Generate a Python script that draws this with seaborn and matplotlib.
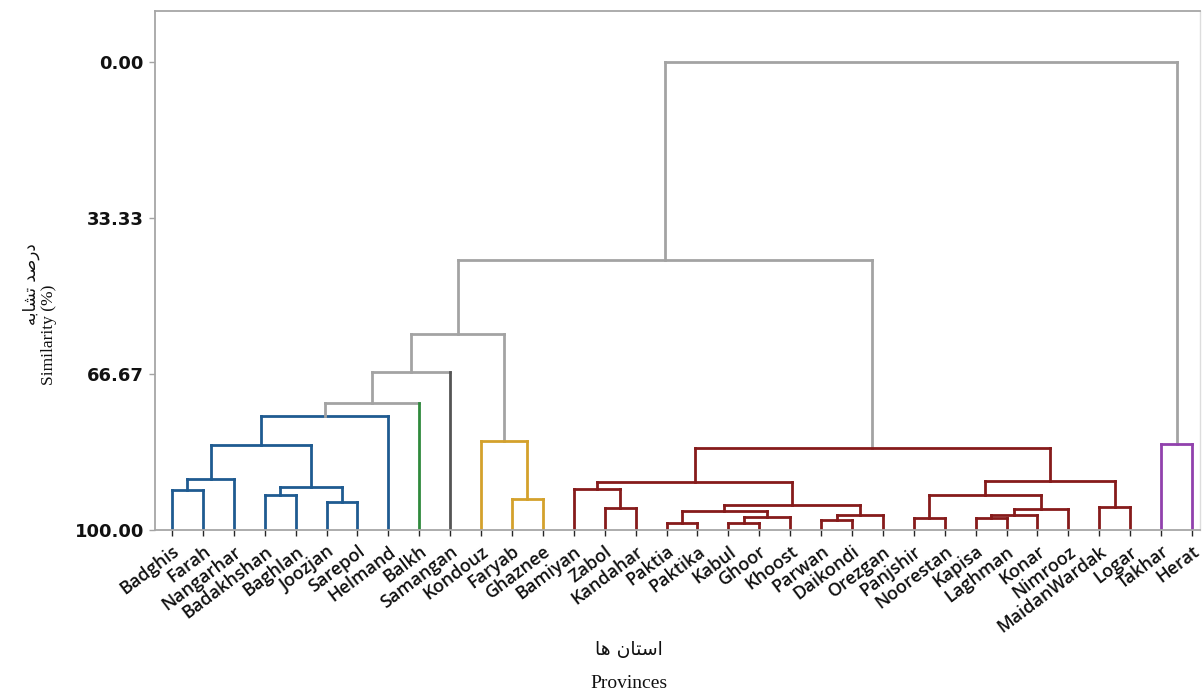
import numpy as np
import pandas as pd
import matplotlib
matplotlib.use("Agg")
import matplotlib.pyplot as plt
import seaborn as sns

# ---------------- data ----------------
provinces = ["Badghis", "Farah", "Nangarhar", "Badakhshan", "Baghlan", "Joozjan",
             "Sarepol", "Helmand", "Balkh", "Samangan", "Kondouz", "Faryab",
             "Ghaznee", "Bamiyan", "Zabol", "Kandahar", "Paktia", "Paktika",
             "Kabul", "Ghoor", "Khoost", "Parwan", "Daikondi", "Orezgan",
             "Panjshir", "Noorestan", "Kapisa", "Laghman", "Konar", "Nimrooz",
             "MaidanWardak", "Logar", "Takhar", "Herat"]

leaf_group = ["blue", "blue", "blue", "blue", "blue", "blue", "blue", "blue",
              "green", "dark", "gold", "gold", "gold",
              "red", "red", "red", "red", "red", "red", "red", "red", "red",
              "red", "red", "red", "red", "red", "red", "red", "red", "red",
              "red", "purple", "purple"]

# merges: node ids 0..33 are leaves, merge k creates node 34+k
merge_left = [0, 34, 3, 5, 36, 35, 39, 40, 41, 11, 10, 42,
              14, 13, 16, 18, 49, 48, 21, 52, 51, 47,
              24, 26, 57, 58, 56, 30, 60, 55, 45, 32, 64]
merge_right = [1, 2, 4, 6, 37, 38, 7, 8, 9, 12, 43, 44,
               15, 46, 17, 19, 20, 50, 22, 23, 53, 54,
               25, 27, 28, 29, 59, 31, 61, 62, 63, 33, 65]
merge_similarity = [91.5, 89.2, 92.5, 94.0, 90.9, 81.8, 75.6, 72.9, 66.2, 93.4, 81.0, 58.2,
                    95.3, 91.2, 98.5, 98.5, 97.2, 95.9, 97.9, 96.8, 94.7, 89.7,
                    97.4, 97.5, 96.9, 95.5, 92.5, 95.1, 89.5, 82.5, 42.2, 81.6, 0.0]
merge_group = ["blue", "blue", "blue", "blue", "blue", "blue", "blue", "grey", "grey", "gold", "gold", "grey",
               "red", "red", "red", "red", "red", "red", "red", "red", "red", "red",
               "red", "red", "red", "red", "red", "red", "red", "red", "grey", "purple", "grey"]

ytick_values = [0.0, 33.33, 66.67, 100.0]
ytick_labels = ["0.00", "33.33", "66.67", "100.00"]

# ---------------- style ----------------
palette = {"blue": "#1f5b91", "green": "#2f8a3c", "dark": "#555555",
           "gold": "#d4a12c", "red": "#861b1b", "purple": "#9141ad",
           "grey": "#a3a3a3"}

sns.set_style("white")
plt.rcParams["font.family"] = ["DejaVu Sans"]

# ---------------- build link segments ----------------
n = len(provinces)
xpos = {i: float(i) for i in range(n)}
ypos = {i: 100.0 for i in range(n)}
rows = []
seg = 0
for k, (a, b, h, g) in enumerate(zip(merge_left, merge_right, merge_similarity, merge_group)):
    node = n + k
    ca = leaf_group[a] if a < n else g
    cb = leaf_group[b] if b < n else g
    for (x0, y0, x1, y1, c) in [(xpos[a], ypos[a], xpos[a], h, ca),
                                (xpos[a], h, xpos[b], h, g),
                                (xpos[b], ypos[b], xpos[b], h, cb)]:
        rows.append({"seg": seg, "x": x0, "y": y0, "group": c})
        rows.append({"seg": seg, "x": x1, "y": y1, "group": c})
        seg += 1
    xpos[node] = (xpos[a] + xpos[b]) / 2.0
    ypos[node] = h
df = pd.DataFrame(rows)

fig = plt.figure(figsize=(12.04, 6.90), dpi=100)
ax = fig.add_axes([155 / 1204, 1 - 530 / 690, (1200 - 155) / 1204, (530 - 11) / 690])

sns.lineplot(data=df, x="x", y="y", units="seg", hue="group", palette=palette,
             estimator=None, sort=False, legend=False, linewidth=2.0,
             solid_capstyle="projecting", ax=ax)

ax.set_xlim(-0.55, n - 1 + 0.26)
ax.set_ylim(100, -10.9)

ax.set_yticks(ytick_values)
ax.set_yticklabels(ytick_labels, fontsize=13, fontweight="bold", color="#111111")
ax.set_xticks(range(n))
ax.set_xticklabels(provinces, rotation=37, ha="right", rotation_mode="anchor",
                   fontsize=13, fontweight="semibold", family="Open Sans", color="#111111")
ax.tick_params(axis="y", length=4, width=1, color="#a3a3a3", pad=4, left=True)
ax.tick_params(axis="x", length=4, width=1, pad=5, bottom=True)
for t, grp in zip(ax.xaxis.get_ticklines()[::2], leaf_group):
    t.set_color(palette[grp])

for side in ["left", "bottom", "top"]:
    ax.spines[side].set_color("#a6a6a6")
    ax.spines[side].set_linewidth(1.3)
ax.spines["right"].set_color("#dddddd")
ax.spines["right"].set_linewidth(1.0)
ax.set_xlabel("")
ax.set_ylabel("")

# axis titles (Persian in presentation forms, visual order)
ylabel_fa = "\uFEEA\uFE91\uFE8E\uFEB8\uFE97 \uFEAA\uFEBB\uFEAD\uFEA9"
xlabel_fa = "\uFE8E\uFEEB \uFEE5\uFE8E\uFE98\uFEB3\uFE8D"
fig.text(31 / 1204, 1 - 284 / 690, ylabel_fa, rotation=90, ha="center", va="center",
         fontsize=12, family=["DejaVu Sans"], color="#111111")
fig.text(49 / 1204, 1 - 335 / 690, "Similarity (%)", rotation=90, ha="center", va="center",
         fontsize=12.5, family=["Liberation Serif"], color="#111111")
fig.text(629 / 1204, 1 - 650 / 690, xlabel_fa, ha="center", va="center",
         fontsize=13.5, family=["DejaVu Sans"], color="#111111")
fig.text(629 / 1204, 1 - 683 / 690, "Provinces", ha="center", va="center",
         fontsize=14, family=["Liberation Serif"], color="#111111")

fig.savefig("out.png", dpi=100)
